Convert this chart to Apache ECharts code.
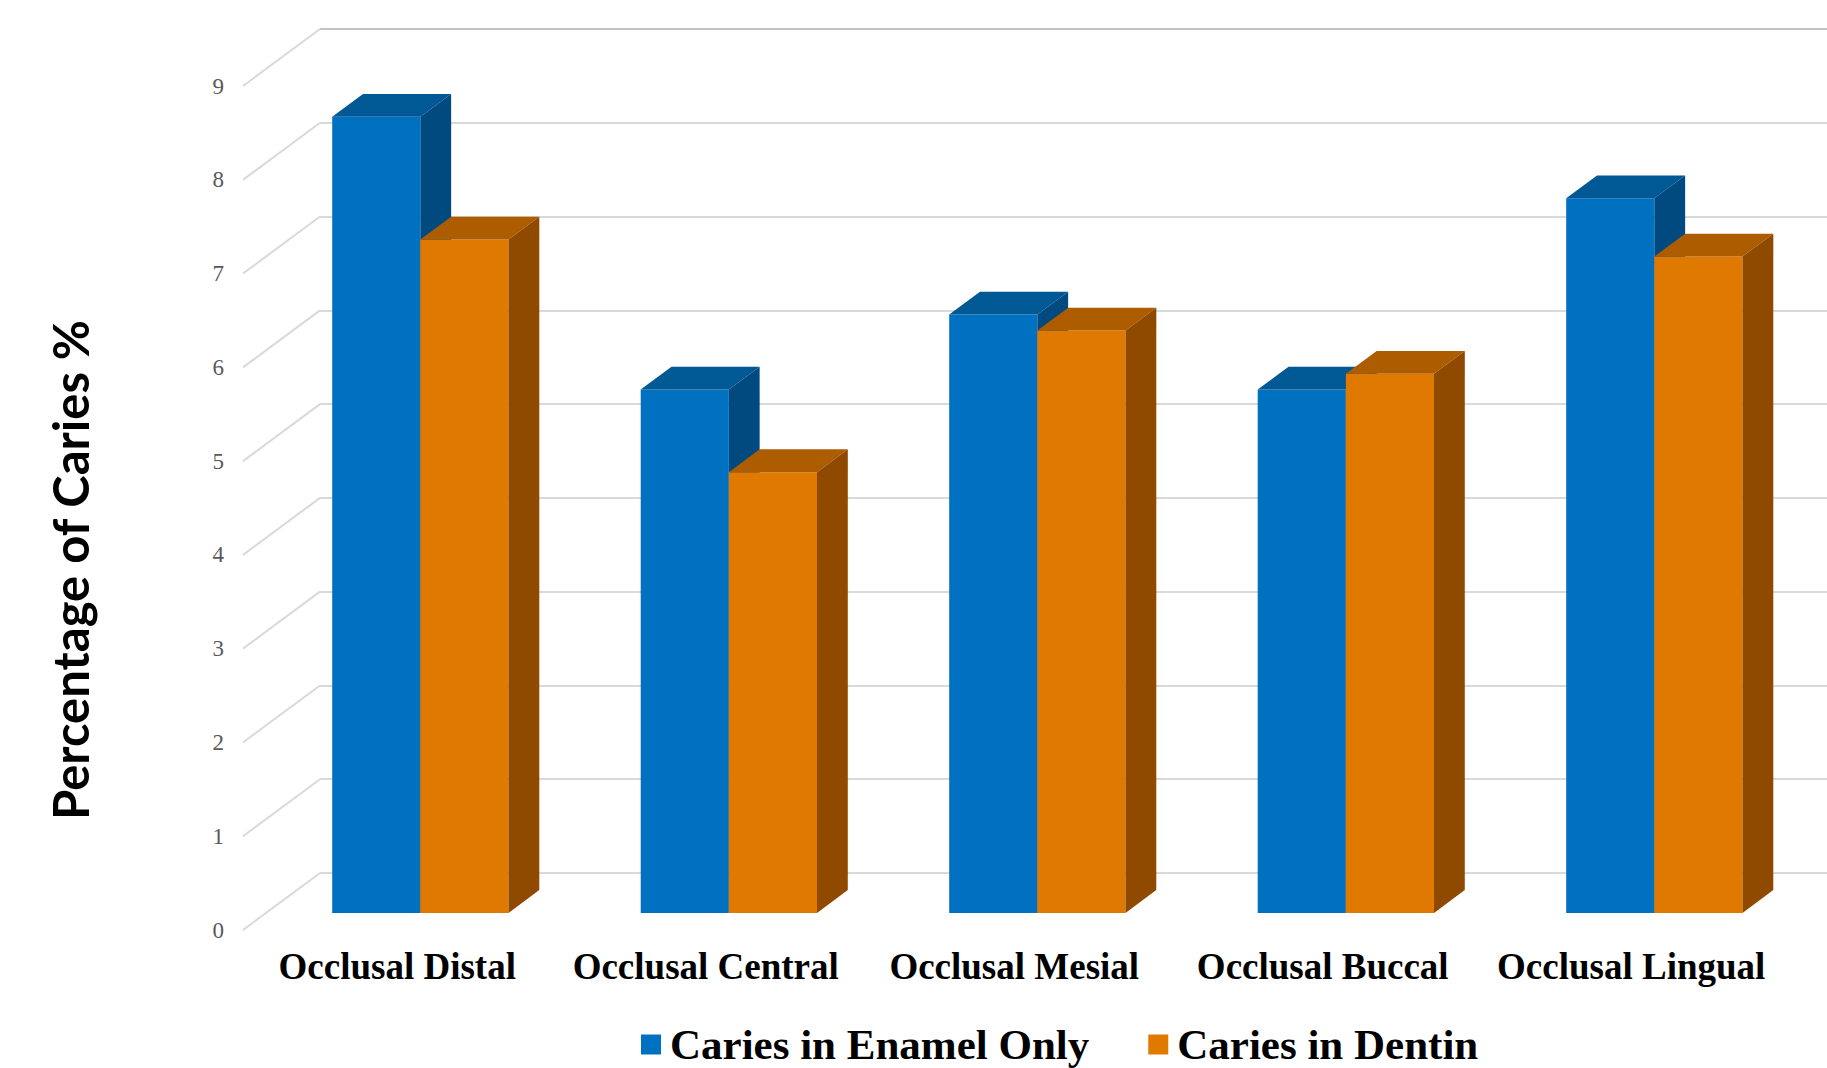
<!DOCTYPE html>
<html>
<head>
<meta charset="utf-8">
<script src="https://cdn.jsdelivr.net/npm/echarts@6/dist/echarts.min.js"></script>
<style>
html,body{margin:0;padding:0;background:#ffffff;}
#chart{width:1827px;height:1068px;}
</style>
</head>
<body>
<div id="chart"></div>
<script>
// ---- data ----
var categories = ['Occlusal Distal', 'Occlusal Central', 'Occlusal Mesial', 'Occlusal Buccal', 'Occlusal Lingual'];
var enamelOnly = [8.49, 5.58, 6.38, 5.58, 7.62];
var dentin = [7.18, 4.70, 6.21, 5.75, 7.00];
var seriesNames = ['Caries in Enamel Only', 'Caries in Dentin'];
var yTicks = [0, 1, 2, 3, 4, 5, 6, 7, 8, 9];
var yMin = 0, yMax = 9, yStep = 1;
var yTitle = 'Percentage of Caries %';

// ---- styles / 3D geometry ----
var FLOOR_DX = 77, FLOOR_DY = 57;          // full floor depth projected
var BAR_FRONT = 0.3, BAR_DEPTH = 0.4;      // fraction of floor depth
var BDX = FLOOR_DX * BAR_DEPTH, BDY = FLOOR_DY * BAR_DEPTH;
var PLOT_H = 844, BAND_W = 308.5;
var FRONT_LEFT = 243, FRONT_TOP = 86;
var colors = [
  {front: '#0070C0', top: '#005894', side: '#004A80'},
  {front: '#E07900', top: '#AD5C00', side: '#8F4A00'}
];

function barRenderer(k) {
  var c = colors[k];
  return function (params, api) {
    var idx = api.value(0), v = api.value(1);
    var base = api.coord([idx, 0]);
    var top = api.coord([idx, v]);
    var band = api.size([1, 0])[0];
    var bw = band / 3.5;
    var x0 = base[0] - bw + k * bw, x1 = x0 + bw;
    var yb = base[1], yt = top[1];
    return {
      type: 'group',
      children: [
        {type: 'rect', shape: {x: x0, y: yt, width: bw, height: yb - yt}, style: {fill: c.front}},
        {type: 'polygon', shape: {points: [[x0, yt], [x1, yt], [x1 + BDX, yt - BDY], [x0 + BDX, yt - BDY]]}, style: {fill: c.top}},
        {type: 'polygon', shape: {points: [[x1, yt], [x1 + BDX, yt - BDY], [x1 + BDX, yb - BDY], [x1, yb]]}, style: {fill: c.side}}
      ]
    };
  };
}

function wallRenderer(params, api) {
  var p = api.coord([0, api.value(1)]);
  var x = params.coordSys.x;
  return {
    type: 'line',
    shape: {x1: x, y1: p[1], x2: x + FLOOR_DX, y2: p[1] - FLOOR_DY},
    style: {stroke: '#D9D9D9', lineWidth: 2}
  };
}

var chart = echarts.init(document.getElementById('chart'), null, {renderer: 'svg'});
var gridLines = yTicks.map(function (t, i) { return i === yTicks.length - 1 ? '#C4C4C4' : '#D9D9D9'; });

chart.setOption({
  animation: false,
  backgroundColor: '#ffffff',
  grid: [
    // depth 0 (front edge): labels
    {left: FRONT_LEFT, top: FRONT_TOP, width: BAND_W * categories.length, height: PLOT_H, outerBoundsMode: 'none', containLabel: false},
    // bar front plane
    {left: FRONT_LEFT + FLOOR_DX * BAR_FRONT, top: FRONT_TOP - FLOOR_DY * BAR_FRONT, width: BAND_W * categories.length, height: PLOT_H, outerBoundsMode: 'none', containLabel: false},
    // back wall
    {left: FRONT_LEFT + FLOOR_DX, top: FRONT_TOP - FLOOR_DY, width: 1700, height: PLOT_H, outerBoundsMode: 'none', containLabel: false}
  ],
  xAxis: [
    {gridIndex: 0, type: 'category', data: categories, axisLine: {show: false}, axisTick: {show: false},
     splitLine: {show: false},
     axisLabel: {interval: 0, margin: 18, color: '#000000', fontFamily: 'Liberation Serif', fontWeight: 'bold', fontSize: 37}},
    {gridIndex: 1, type: 'category', data: categories, show: false},
    {gridIndex: 2, type: 'value', min: 0, max: 1, show: false}
  ],
  yAxis: [
    {gridIndex: 0, type: 'value', min: yMin, max: yMax, interval: yStep, axisLine: {show: false}, axisTick: {show: false},
     splitLine: {show: false},
     axisLabel: {margin: 19, color: '#595959', fontFamily: 'Liberation Serif', fontSize: 23}},
    {gridIndex: 1, type: 'value', min: yMin, max: yMax, interval: yStep, show: false},
    {gridIndex: 2, type: 'value', min: yMin, max: yMax, interval: yStep, axisLine: {show: false}, axisTick: {show: false},
     axisLabel: {show: false},
     splitLine: {show: true, lineStyle: {color: gridLines, width: 2}}}
  ],
  legend: {
    data: seriesNames,
    left: 641, top: 1023, padding: 0,
    itemWidth: 20, itemHeight: 20, itemGap: 59,
    icon: 'rect',
    textStyle: {fontFamily: 'Liberation Serif', fontWeight: 'bold', fontSize: 43, lineHeight: 38, color: '#000000', padding: [0, 0, 0, 4]}
  },
  graphic: [
    {type: 'text', x: 70, y: 570, rotation: Math.PI / 2,
     style: {text: yTitle, fill: '#000000', fontFamily: 'Lato', fontWeight: 'bold', fontSize: 49, align: 'center', verticalAlign: 'middle'}}
  ],
  series: [
    {type: 'custom', name: 'wall', xAxisIndex: 0, yAxisIndex: 0, silent: true, z: 1,
     data: yTicks.map(function (t) { return [0, t]; }), renderItem: wallRenderer},
    {type: 'custom', name: seriesNames[0], xAxisIndex: 1, yAxisIndex: 1, z: 2,
     itemStyle: {color: colors[0].front},
     data: enamelOnly.map(function (v, i) { return [i, v]; }), renderItem: barRenderer(0)},
    {type: 'custom', name: seriesNames[1], xAxisIndex: 1, yAxisIndex: 1, z: 3,
     itemStyle: {color: colors[1].front},
     data: dentin.map(function (v, i) { return [i, v]; }), renderItem: barRenderer(1)}
  ]
});
</script>
</body>
</html>
